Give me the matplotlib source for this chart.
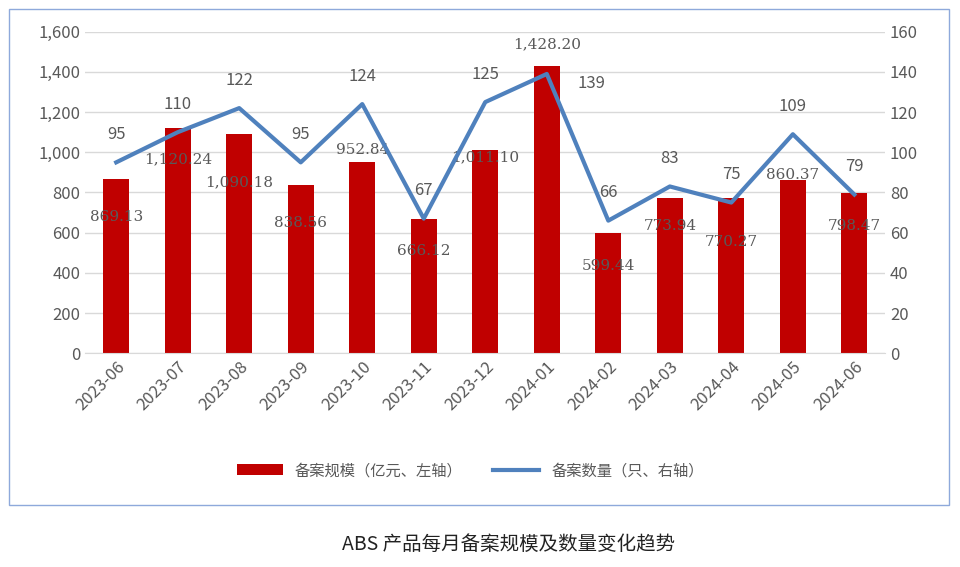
import matplotlib
matplotlib.use('Agg')
import matplotlib.pyplot as plt
from matplotlib.patches import Rectangle

plt.rcParams['font.family'] = ['Noto Sans CJK SC', 'DejaVu Sans']

months = ['2023-06', '2023-07', '2023-08', '2023-09', '2023-10', '2023-11', '2023-12',
          '2024-01', '2024-02', '2024-03', '2024-04', '2024-05', '2024-06']
scale = [869.13, 1120.24, 1090.18, 838.56, 952.84, 666.12, 1011.10,
         1428.20, 599.44, 773.94, 770.27, 860.37, 798.47]
count = [95, 110, 122, 95, 124, 67, 125, 139, 66, 83, 75, 109, 79]
# label offsets (px) relative to the bar top / line point, as in the source image
bar_off = [-38, -31, -48, -38, 12, -32, -7, 22, -33, -28, -44, 5, -33]
cnt_off = [(0, 28)] * 7 + [(45, -10)] + [(0, 28)] * 5

fig = plt.figure(figsize=(9.6, 5.67), dpi=100)
ax = fig.add_axes([0.089, 0.377, 0.833, 0.567])
ax2 = ax.twinx()

x = range(len(months))
ax.bar(x, scale, width=0.42, color='#C00000', label='备案规模（亿元、左轴）', zorder=2)
ax2.plot(x, count, color='#4F81BD', linewidth=3, label='备案数量（只、右轴）')

for i, v in enumerate(scale):
    ax.annotate(f'{v:,.2f}', (i, v), xytext=(0, bar_off[i]), textcoords='offset pixels',
                ha='center', va='center', fontsize=11, color='#595959',
                family=['DejaVu Serif'], zorder=5)
for i, v in enumerate(count):
    ax2.annotate(str(v), (i, v), xytext=cnt_off[i], textcoords='offset pixels',
                 ha='center', va='center', fontsize=12, color='#595959')

ax.set_ylim(0, 1600)
ax.set_yticks(range(0, 1601, 200))
ax.set_yticklabels([f'{t:,}' for t in range(0, 1601, 200)])
ax2.set_ylim(0, 160)
ax2.set_yticks(range(0, 161, 20))
ax.set_xlim(-0.5, len(months) - 0.5)
ax.set_xticks(list(x))
ax.set_xticklabels(months, rotation=45, ha='right', rotation_mode='anchor')
ax.grid(axis='y', color='#D9D9D9', linewidth=1, zorder=0)
for a in (ax, ax2):
    for s in a.spines.values():
        s.set_visible(False)
    a.tick_params(length=0, labelsize=12, labelcolor='#595959')
ax.spines['bottom'].set_visible(True)
ax.spines['bottom'].set_color('#D9D9D9')

h1, l1 = ax.get_legend_handles_labels()
h2, l2 = ax2.get_legend_handles_labels()
fig.legend(h1 + h2, l1 + l2, loc='center', bbox_to_anchor=(0.49, 0.17), ncol=2,
           frameon=False, fontsize=11, labelcolor='#595959', handlelength=3)

fig.patches.append(Rectangle((0.009, 0.11), 0.98, 0.875, transform=fig.transFigure,
                             fill=False, edgecolor='#8EA9DB', linewidth=1))
fig.text(0.53, 0.04, 'ABS 产品每月备案规模及数量变化趋势', ha='center', va='center',
         fontsize=14, color='#222222')

plt.savefig('out.png')
plt.close()
